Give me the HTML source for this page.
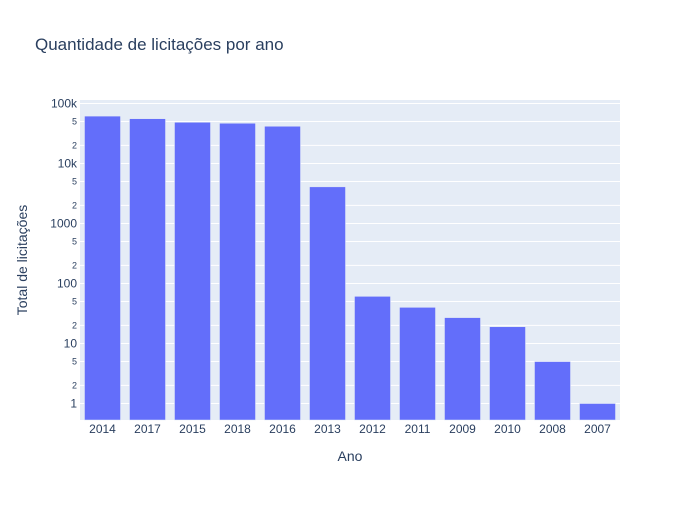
<!DOCTYPE html>
<html><head><meta charset="utf-8"><style>
body{margin:0;background:#fff;font-family:"Liberation Sans",Arial,sans-serif}
svg text{font-family:"Liberation Sans",Arial,sans-serif;fill:#2a3f5f}
</style></head><body>
<svg id="chart" width="700" height="500">
<rect x="0" y="0" width="700" height="500" fill="#fff"/>
<text x="35" y="50" font-size="17">Quantidade de licitações por ano</text>
<rect x="80" y="100" width="540" height="320" fill="#e5ecf6"/>
<g id="grid"></g><g id="bars"></g><g id="yticks"></g><g id="xticks"></g>
<text x="350" y="461" font-size="14" text-anchor="middle">Ano</text>
<text transform="translate(27,260) rotate(-90)" font-size="14" text-anchor="middle">Total de licitações</text>
</svg>
<script>
const categories=["2014","2017","2015","2018","2016","2013","2012","2011","2009","2010","2008","2007"];
const values=[61600,55800,48600,46800,41700,4080,61,40,27,19,5,1];
const majorTicks=[1,10,100,1000,10000,100000];
const majorLabels=["1","10","100","1000","10k","100k"];
const NS="http://www.w3.org/2000/svg";
const x0=80,x1=620,yT=100,yB=420,lmin=-0.275,lmax=5.058;
function y(v){return yB-(Math.log10(v)-lmin)/(lmax-lmin)*(yB-yT);}
const bw=(x1-x0)/categories.length;
function mk(t,a,p){const e=document.createElementNS(NS,t);for(const k in a)e.setAttribute(k,a[k]);document.getElementById(p).appendChild(e);return e;}
for(let i=0;i<majorTicks.length;i++){
  const v=majorTicks[i];
  const g=mk("line",{x1:x0,x2:x1,y1:y(v),y2:y(v),stroke:"#fff","stroke-width":1},"grid");
  
  
  const t=mk("text",{x:x0-3,y:y(v)+4,"font-size":12,"text-anchor":"end"},"yticks");
  t.textContent=majorLabels[i];
  
  
  if(v<100000){for(const m of [2,5]){
    const mv=v*m;
    const gl=mk("line",{x1:x0,x2:x1,y1:y(mv),y2:y(mv),stroke:"#fff","stroke-width":1},"grid");
    
    
    const mt=mk("text",{x:x0-3,y:y(mv)+3,"font-size":9,"text-anchor":"end"},"yticks");
    mt.textContent=String(m);
    
    
  }}
}
categories.forEach((c,i)=>{
  const bx=x0+i*bw+bw*0.1,w=bw*0.8,top=y(values[i]);
  const r=mk("rect",{x:bx,y:top,width:w,height:yB-top,fill:"#636efa",stroke:"#e5ecf6","stroke-width":0.5},"bars");
  
  
  const t=mk("text",{x:x0+i*bw+bw/2,y:433,"font-size":12,"text-anchor":"middle"},"xticks");
  t.textContent=c;
  
  
});
</script>
</body></html>
